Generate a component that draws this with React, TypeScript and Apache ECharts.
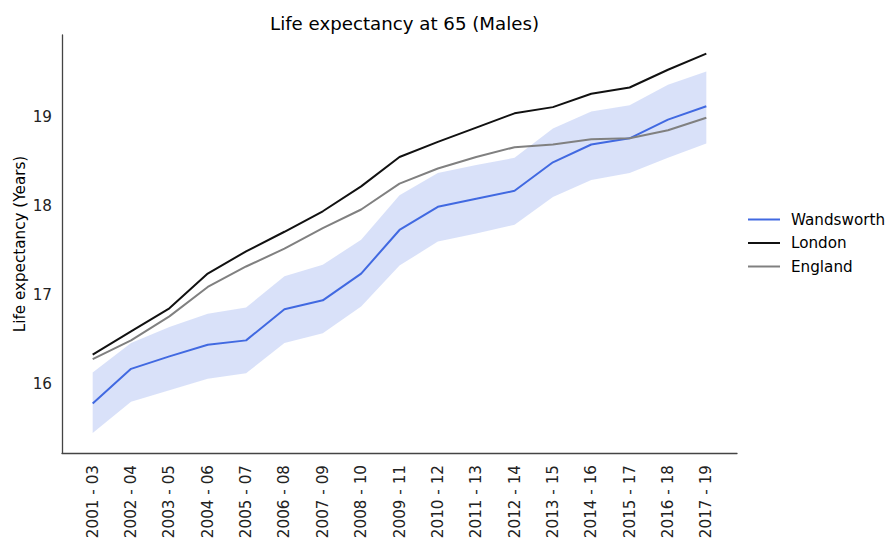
import React, { useEffect, useRef } from "react";
import * as echarts from "echarts";

const categories = [
  "2001 - 03", "2002 - 04", "2003 - 05", "2004 - 06", "2005 - 07", "2006 - 08",
  "2007 - 09", "2008 - 10", "2009 - 11", "2010 - 12", "2011 - 13", "2012 - 14",
  "2013 - 15", "2014 - 16", "2015 - 17", "2016 - 18", "2017 - 19",
];
const wandsworth = [15.78, 16.17, 16.31, 16.44, 16.49, 16.84, 16.94, 17.24, 17.73, 17.99, 18.08, 18.17, 18.49, 18.69, 18.76, 18.97, 19.12];
const wandsworthUpper = [16.13, 16.46, 16.64, 16.79, 16.86, 17.21, 17.34, 17.62, 18.12, 18.37, 18.46, 18.54, 18.87, 19.06, 19.13, 19.36, 19.51];
const wandsworthLower = [15.45, 15.8, 15.93, 16.06, 16.12, 16.46, 16.57, 16.87, 17.33, 17.6, 17.69, 17.79, 18.1, 18.29, 18.37, 18.54, 18.7];
const london = [16.33, 16.59, 16.85, 17.24, 17.49, 17.71, 17.94, 18.22, 18.55, 18.72, 18.88, 19.04, 19.11, 19.26, 19.33, 19.53, 19.71];
const england = [16.28, 16.49, 16.76, 17.09, 17.32, 17.52, 17.75, 17.96, 18.25, 18.42, 18.55, 18.66, 18.69, 18.75, 18.76, 18.85, 18.99];
const yTicks = [16, 17, 18, 19];

const FONT = "DejaVu Sans";

export default function App() {
  const ref = useRef<HTMLDivElement>(null);
  useEffect(() => {
    if (!ref.current) return;
    const chart = echarts.init(ref.current, null, { renderer: "svg" });
    const idx = categories.map((_, i) => i);
    const pts = (arr: number[]) => arr.map((v, i) => [i, v]);
    chart.setOption({
      animation: false,
      backgroundColor: "#ffffff",
      title: {
        text: "Life expectancy at 65 (Males)",
        left: 399.5,
        textAlign: "center",
        top: 9,
        textStyle: { fontFamily: FONT, fontSize: 18.2, fontWeight: "normal", color: "#000" },
      },
      legend: {
        orient: "vertical",
        left: 748,
        top: 212,
        padding: 0,
        itemWidth: 32,
        itemHeight: 2,
        itemGap: 8.5,
        icon: "rect",
        data: ["Wandsworth", "London", "England"],
        textStyle: { fontFamily: FONT, fontSize: 15.2, color: "#000", padding: [0, 0, 0, 6] },
      },
      grid: {
        left: 62,
        right: 150,
        top: 35,
        bottom: 86,
        containLabel: false,
        outerBoundsMode: "none",
      },
      xAxis: {
        type: "value",
        min: -0.8,
        max: 16.8,
        splitLine: { show: false },
        axisTick: { show: false },
        axisLine: { show: true, onZero: false, lineStyle: { color: "#444", width: 1.3 } },
        axisLabel: {
          customValues: idx,
          rotate: 90,
          margin: 12,
          formatter: (v: number) => categories[Math.round(v)] ?? "",
          fontFamily: FONT,
          fontSize: 15.2,
          color: "#222",
        },
      },
      yAxis: {
        type: "value",
        min: 15.225,
        max: 19.92,
        name: "Life expectancy (Years)",
        nameLocation: "middle",
        nameGap: 35,
        nameRotate: 90,
        nameMoveOverlap: false,
        nameTextStyle: { fontFamily: FONT, fontSize: 15.2, color: "#000" },
        splitLine: { show: false },
        axisTick: { show: false },
        axisLine: { show: true, onZero: false, lineStyle: { color: "#444", width: 1.3 } },
        axisLabel: {
          customValues: yTicks,
          margin: 10,
          fontFamily: FONT,
          fontSize: 15.2,
          color: "#222",
        },
      },
      series: [
        {
          name: "band",
          type: "custom",
          silent: true,
          data: idx.map((i) => [i, wandsworthLower[i], wandsworthUpper[i]]),
          encode: { x: 0, y: [1, 2] },
          renderItem: (params: any, api: any) => {
            if (params.dataIndex !== 0) return null;
            const points: number[][] = [];
            for (let i = 0; i < wandsworthUpper.length; i++) points.push(api.coord([i, wandsworthUpper[i]]));
            for (let i = wandsworthLower.length - 1; i >= 0; i--) points.push(api.coord([i, wandsworthLower[i]]));
            return {
              type: "polygon",
              shape: { points },
              style: { fill: "rgba(65,105,225,0.2)", stroke: "none" },
            };
          },
          z: 1,
        },
        {
          name: "Wandsworth",
          type: "line",
          data: pts(wandsworth),
          symbol: "none",
          color: "#4169e1",
          lineStyle: { color: "#4169e1", width: 2 },
          z: 3,
        },
        {
          name: "London",
          type: "line",
          data: pts(london),
          symbol: "none",
          color: "#111111",
          lineStyle: { color: "#111111", width: 2 },
          z: 3,
        },
        {
          name: "England",
          type: "line",
          data: pts(england),
          symbol: "none",
          color: "#808080",
          lineStyle: { color: "#808080", width: 2 },
          z: 3,
        },
      ],
    });
    return () => chart.dispose();
  }, []);
  return (
    <div
      ref={ref}
      style={{ width: 887, height: 539, position: "fixed", left: 0, top: 0, overflow: "hidden" }}
    />
  );
}
